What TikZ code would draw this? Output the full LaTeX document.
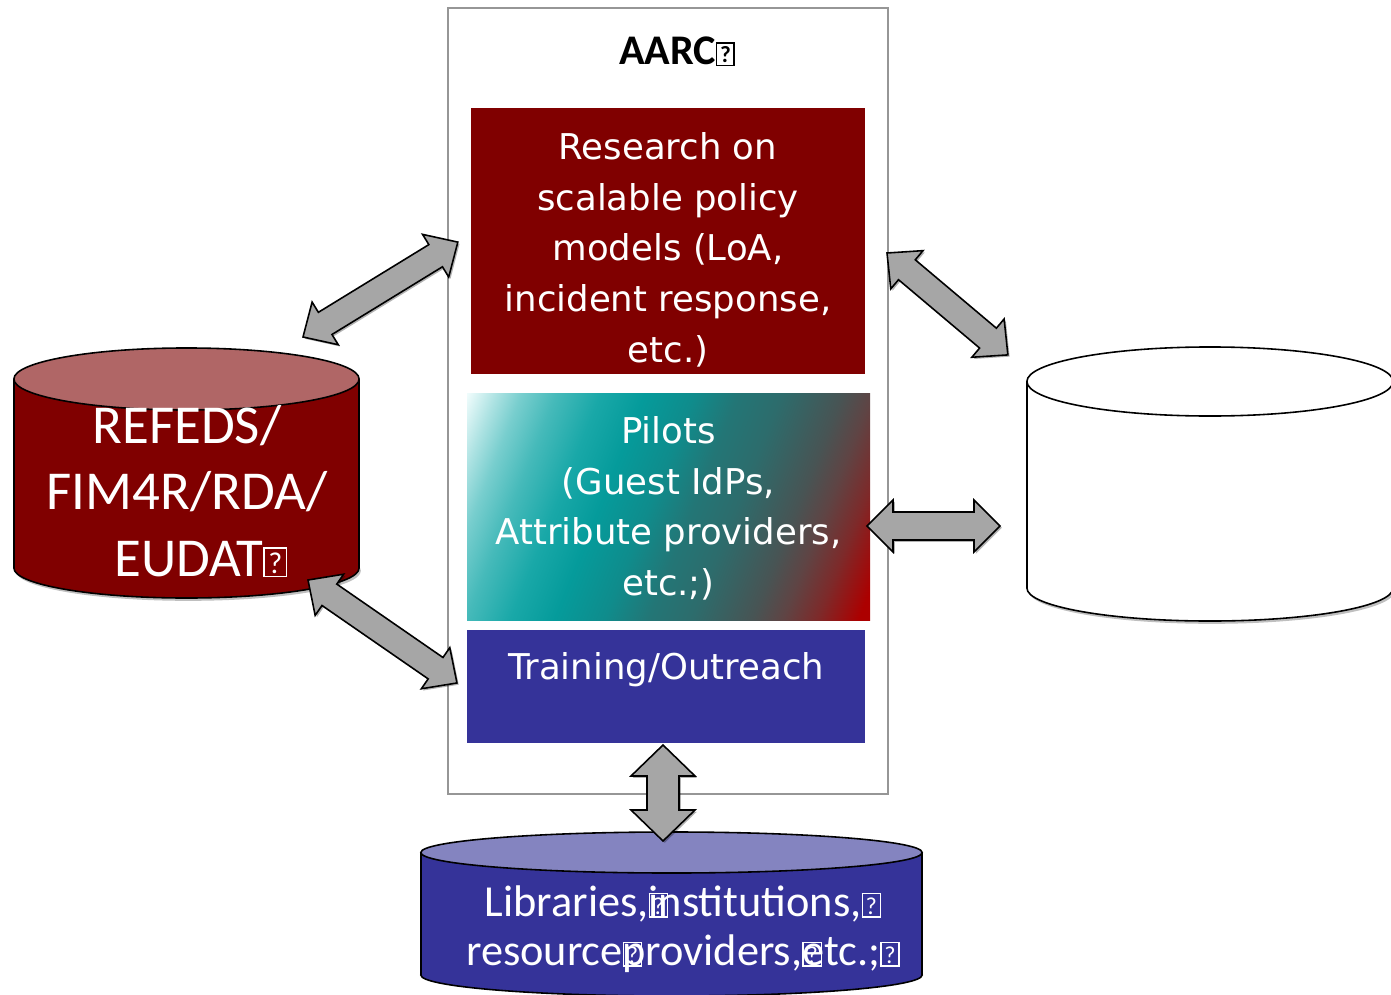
\documentclass[tikz,border=0pt]{standalone}
\usepackage{graphicx}
\usepackage{xcolor}
\usepackage{fontspec}
\setmainfont{Carlito}
\newfontfamily\verd{DejaVu Sans}
\usepackage{tikz}
\usetikzlibrary{shadows,calc}

\definecolor{aarcred}{RGB}{128,0,0}
\definecolor{aarcpink}{RGB}{176,102,102}
\definecolor{aarcblue}{RGB}{53,51,153}
\definecolor{aarclilac}{RGB}{132,132,192}
\definecolor{arrowgray}{RGB}{166,166,166}
\definecolor{framegray}{RGB}{150,150,150}
\definecolor{pilA}{RGB}{240,252,252}
\definecolor{pilB}{RGB}{172,226,226}
\definecolor{pilC}{RGB}{120,206,206}
\definecolor{pilD}{RGB}{70,186,186}
\definecolor{pilE}{RGB}{25,168,168}
\definecolor{pilF}{RGB}{5,155,155}
\definecolor{pilG}{RGB}{15,140,140}
\definecolor{pilH}{RGB}{35,118,118}
\definecolor{pilI}{RGB}{45,108,108}
\definecolor{pilJ}{RGB}{58,96,96}
\definecolor{pilK}{RGB}{72,84,84}
\definecolor{pilL}{RGB}{95,68,68}
\definecolor{pilM}{RGB}{125,42,42}
\definecolor{pilN}{RGB}{172,0,0}
\pgfdeclarehorizontalshading{pilotshade}{100bp}{color(0bp)=(pilA); color(17.5bp)=(pilA); color(21.4bp)=(pilB); color(24.65bp)=(pilC); color(29.2bp)=(pilD); color(35.05bp)=(pilE); color(40.9bp)=(pilF); color(47.4bp)=(pilG); color(53.25bp)=(pilH); color(59bp)=(pilI); color(63bp)=(pilJ); color(67bp)=(pilK); color(71bp)=(pilL); color(75.5bp)=(pilM); color(81bp)=(pilN); color(100bp)=(pilN)}

% missing glyph box
\newcommand{\nog}{{\setlength{\fboxsep}{0pt}\setlength{\fboxrule}{0.4pt}\fbox{\makebox[0.38em]{\rule{0pt}{0.5em}\raisebox{0.05em}{\scalebox{0.55}{?}}}}}}

% block arrow: from, to, shaft half width, head half width, head length (px)
\newcommand{\blockarrow}[5]{%
  \pgfpointdiff{\pgfpointanchor{#1}{center}}{\pgfpointanchor{#2}{center}}%
  \pgfgetlastxy{\arrdx}{\arrdy}%
  \pgfmathsetmacro{\arrang}{atan2(\arrdy,\arrdx)}%
  \pgfmathsetmacro{\arrlen}{veclen(\arrdx,\arrdy)}%
  \begin{scope}[shift={(#1)}, rotate=\arrang]
    \draw[bigarrow] (0pt,0pt) -- (#5*0.2845pt,#4*0.2845pt) -- (#5*0.2845pt,#3*0.2845pt)
      -- (\arrlen pt-#5*0.2845pt,#3*0.2845pt) -- (\arrlen pt-#5*0.2845pt,#4*0.2845pt)
      -- (\arrlen pt,0pt) -- (\arrlen pt-#5*0.2845pt,-#4*0.2845pt)
      -- (\arrlen pt-#5*0.2845pt,-#3*0.2845pt) -- (#5*0.2845pt,-#3*0.2845pt)
      -- (#5*0.2845pt,-#4*0.2845pt) -- cycle;
  \end{scope}}

\begin{document}
\begin{tikzpicture}[x=0.01cm, y=-0.01cm,
    boxtext/.style={text=white, align=center, inner sep=0pt, font=\verd\fontsize{10.1}{14.4}\selectfont},
    cyltext/.style={text=white, align=center, inner sep=0pt},
    cylline/.style={draw=black, line width=0.45pt},
    bigarrow/.style={fill=arrowgray, draw=black, line width=0.45pt, line join=miter,
      drop shadow={shadow xshift=0.5pt, shadow yshift=-0.5pt, opacity=0.3, fill=black}}]
    \useasboundingbox (0,0) rectangle (1391,994);
    % AARC frame
    \draw[framegray, line width=0.5pt] (448,8) rectangle (888,794);
    \node[font=\bfseries\fontsize{12}{14}\selectfont, anchor=base] (aarc) at (677,65) {AARC\nog};
    % Research
    \fill[aarcred] (471,108) rectangle (865,374);
    \node[boxtext, anchor=north] (research) at (668,132) {Research on\\scalable policy\\models (LoA,\\incident response,\\etc.)};
    % Pilots
    \shade[shading=pilotshade, shading angle=-21.8] (467,393) rectangle (870,620);
    \node[boxtext, anchor=north] (pilots) at (668.5,416) {Pilots\\(Guest IdPs,\\Attribute providers,\\etc.;)};
    % Training
    \fill[aarcblue] (467,630) rectangle (865,743);
    \node[boxtext, anchor=base] (training) at (666,679) {Training/Outreach};
    % REFEDS cylinder
    \draw[cylline, fill=aarcred, drop shadow={shadow xshift=0.5pt, shadow yshift=-0.8pt, opacity=0.25, fill=black}] (186.5,568) ellipse [x radius=1.725cm, y radius=0.30cm];
    \fill[aarcred] (14,379) rectangle (359,568);
    \draw[cylline] (14,379) -- (14,568) (359,379) -- (359,568);
    \draw[cylline, fill=aarcpink] (186.5,379) ellipse [x radius=1.725cm, y radius=0.31cm];
    \node[cyltext, font=\fontsize{15.6}{18.8}\selectfont, anchor=north] (refeds) at (187,405) {REFEDS/\\FIM4R/RDA/\\\hspace*{0.5em}EUDAT\nog};
    % empty cylinder
    \draw[cylline, fill=white, drop shadow={shadow xshift=0.5pt, shadow yshift=-0.8pt, opacity=0.25, fill=black}] (1210,588) ellipse [x radius=1.83cm, y radius=0.33cm];
    \fill[white] (1027,381.5) rectangle (1393,588);
    \draw[cylline] (1027,381.5) -- (1027,588) (1393,381.5) -- (1393,588);
    \draw[cylline, fill=white] (1210,381.5) ellipse [x radius=1.83cm, y radius=0.345cm];
    % Libraries cylinder
    \draw[cylline, fill=aarcblue] (671.5,975) ellipse [x radius=2.505cm, y radius=0.21cm];
    \fill[aarcblue] (421,852.5) rectangle (922,975);
    \draw[cylline] (421,852.5) -- (421,975) (922,852.5) -- (922,975);
    \draw[cylline, fill=aarclilac] (671.5,852.5) ellipse [x radius=2.505cm, y radius=0.205cm];
    \node[cyltext, font=\fontsize{12.6}{13.9}\selectfont, anchor=north] (libraries) at (683,885) {Libraries,\rlap{\nog}institutions,\nog\\resource\rlap{\nog}providers,\rlap{\nog}etc.;\nog};
    % Arrow ends
    \coordinate (refup) at (303,337);
    \coordinate (resleft) at (458,242);
    \coordinate (refdown) at (308,580);
    \coordinate (traleft) at (457,683);
    \coordinate (resright) at (887,253);
    \coordinate (othup) at (1008,355);
    \coordinate (pilright) at (867,526);
    \coordinate (othleft) at (1000,526);
    \coordinate (tradown) at (663,745);
    \coordinate (libup) at (663,841);
    % Arrows
    \blockarrow{refup}{resleft}{13}{25}{26}
    \blockarrow{refdown}{traleft}{13}{25}{26}
    \blockarrow{resright}{othup}{13}{25}{26}
    \blockarrow{pilright}{othleft}{14}{26}{26}
    \blockarrow{tradown}{libup}{16}{32}{31}
\end{tikzpicture}
\end{document}
